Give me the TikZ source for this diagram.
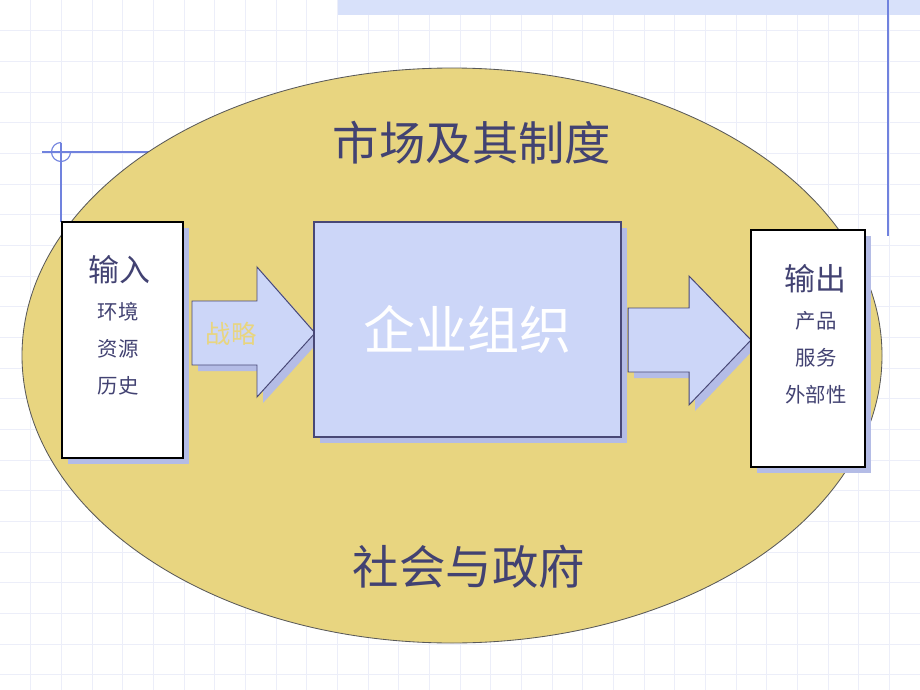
\documentclass[tikz,border=0pt]{standalone}
\usepackage{fontspec}
\setmainfont{Noto Sans CJK SC}
\usepackage{xcolor}
\usetikzlibrary{shadows}

\definecolor{sand}{RGB}{232,213,128}
\definecolor{paleblue}{RGB}{204,214,248}
\definecolor{shadowblue}{RGB}{180,188,230}
\definecolor{inkblue}{RGB}{66,66,114}
\definecolor{edgeblue}{RGB}{72,72,118}
\definecolor{gridblue}{RGB}{236,238,249}
\definecolor{rulerblue}{RGB}{112,130,222}
\definecolor{bandblue}{RGB}{216,225,250}

\begin{document}
\begin{tikzpicture}[x=0.025cm,y=-0.025cm,
		gridline/.style={draw=gridblue,line width=0.4pt},
		ruler/.style={draw=rulerblue,line width=0.8pt},
		blockarrow/.style={fill=paleblue,draw=edgeblue,line width=0.7pt,line join=miter},
		arrowshadow/.style={fill=shadowblue},
		iobox/.style={draw=black,line width=1.3pt,fill=white,
			drop shadow={shadow xshift=0.15cm,shadow yshift=-0.15cm,fill=shadowblue,opacity=1}},
		firmbox/.style={draw=edgeblue,line width=1pt,fill=paleblue,text=white,
			font=\fontsize{37}{37}\selectfont,
			drop shadow={shadow xshift=0.15cm,shadow yshift=-0.15cm,fill=shadowblue,opacity=1}},
		bigtitle/.style={text=inkblue,font=\fontsize{33}{33}\selectfont,inner sep=0pt},
		boxhead/.style={text=inkblue,font=\fontsize{22}{22}\selectfont,inner sep=0pt},
		boxitem/.style={text=inkblue,font=\fontsize{14.5}{14.5}\selectfont,inner sep=0pt},
		stratlabel/.style={text=sand,font=\fontsize{18}{18}\selectfont,inner sep=0pt}]
				\useasboundingbox (0,0) rectangle (920,690);
				\fill[white] (0,0) rectangle (920,690);
				\foreach \i in {1,...,29}
					\draw[gridline] (\i*30.667,0) -- (\i*30.667,690);
				\foreach \j in {1,...,22}
					\draw[gridline] (0,\j*30.667) -- (920,\j*30.667);
				\fill[bandblue] (338,0) rectangle (920,15);
				\draw[ruler] (888,0) -- (888,236);
				\draw[ruler] (42,152) -- (150,152);
				\draw[ruler] (61,143) -- (61,222);
				\draw[ruler] (70.5,152) arc[start angle=0,end angle=270,radius=9.5];
				\draw[fill=sand,draw=black!65,line width=0.6pt] (452,355.5) ellipse [x radius=430,y radius=287.5];
				\fill[arrowshadow,shift={(6,6)}] (192,301) -- (257,301) -- (257,267) -- (315,333) -- (257,397) -- (257,365) -- (192,365) -- cycle;
				\draw[blockarrow] (192,301) -- (257,301) -- (257,267) -- (315,333) -- (257,397) -- (257,365) -- (192,365) -- cycle;
				\fill[arrowshadow,shift={(6,6)}] (628,308) -- (689,308) -- (689,276) -- (751,340) -- (689,405) -- (689,372) -- (628,372) -- cycle;
				\draw[blockarrow] (628,308) -- (689,308) -- (689,276) -- (751,340) -- (689,405) -- (689,372) -- (628,372) -- cycle;
				\node[iobox,minimum width=3.025cm,minimum height=5.9cm] (inbox) at (122.5,340) {};
				\node[iobox,minimum width=2.85cm,minimum height=5.925cm] (outbox) at (808,348.5) {};
				\node[firmbox,minimum width=7.675cm,minimum height=5.375cm] (firm) at (467.5,329.5) {企业组织};
				\node[bigtitle] (market) at (472,143) {市场及其制度};
				\node[bigtitle] (society) at (469,567) {社会与政府};
				\node[stratlabel] (strategy) at (231,334) {战略};
				\node[boxhead] (inhead) at (119,270) {输入};
				\node[boxitem] (environment) at (118,312) {环境};
				\node[boxitem] (resources) at (118,349) {资源};
				\node[boxitem] (history) at (118,386) {历史};
				\node[boxhead] (outhead) at (815,279) {输出};
				\node[boxitem] (products) at (816,321) {产品};
				\node[boxitem] (services) at (816,358) {服务};
				\node[boxitem] (externality) at (816,395) {外部性};
		\end{tikzpicture}
\end{document}
